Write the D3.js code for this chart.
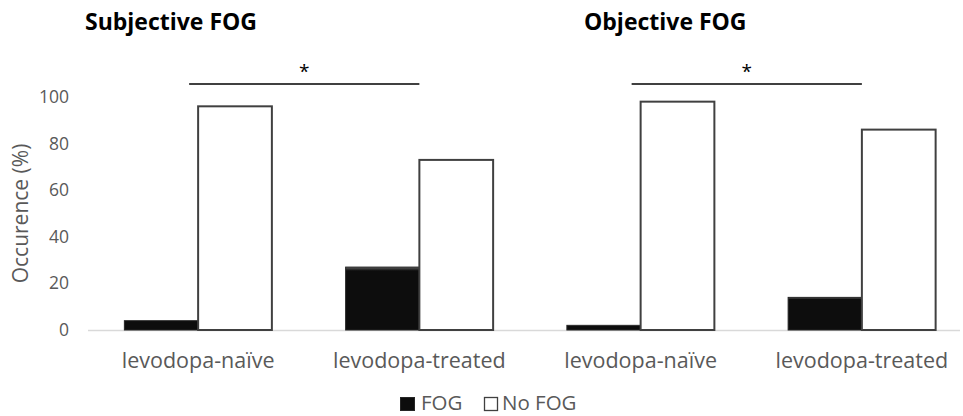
<!DOCTYPE html>
<html><head><meta charset="utf-8">
<script src="https://cdn.jsdelivr.net/npm/d3@7"></script>
<style>body{margin:0;background:#fff}svg text{font-family:"Open Sans","Noto Sans",sans-serif}</style>
</head><body><svg id="c" width="963" height="416"></svg>
<script>
const categories = ["Subjective|levodopa-naïve","Subjective|levodopa-treated","Objective|levodopa-naïve","Objective|levodopa-treated"];
const categoryLabels = ["levodopa-naïve","levodopa-treated","levodopa-naïve","levodopa-treated"];
const seriesNames = ["FOG","No FOG"];
const fogValues = [4, 27, 2, 14];
const noFogValues = [96, 73, 98, 86];
const yTicks = [0,20,40,60,80,100];
const panelTitles = ["Subjective FOG","Objective FOG"];
const sigPairs = [[0,1],[2,3]];
const sigLabel = "*";
const yLabel = "Occurence (%)";

const svg = d3.select("#c");
const defs = svg.append("defs");
const g1 = defs.append("linearGradient").attr("id","bev").attr("x1",0).attr("y1",0).attr("x2",0).attr("y2",1);
g1.append("stop").attr("offset","0").attr("stop-color","#5a5a5a");
g1.append("stop").attr("offset","0.06").attr("stop-color","#0d0d0d");
g1.append("stop").attr("offset","1").attr("stop-color","#0d0d0d");

const x = d3.scaleBand().domain(categories).range([87.5, 972.5]);
const xs = d3.scaleBand().domain(seriesNames).range([0, x.bandwidth()]).paddingOuter(0.5).paddingInner(0);
const y = d3.scaleLinear().domain([0,100]).range([330, 97]);

// y axis tick labels
svg.append("g").selectAll("text").data(yTicks).join("text")
  .attr("x", 69).attr("y", d => y(d) + 6).attr("text-anchor","end")
  .attr("font-size", 17.5).attr("fill","#595959").text(d => d);

svg.append("text").attr("transform","translate(28,"+((y(0)+y(100))/2+0)+") rotate(-90)")
  .attr("text-anchor","middle").attr("font-size",21).attr("fill","#595959").text(yLabel);

// baseline
svg.append("line").attr("x1",88).attr("x2",960).attr("y1",y(0)+0.5).attr("y2",y(0)+0.5)
  .attr("stroke","#d9d9d9").attr("stroke-width",1.5);

const groups = svg.append("g").selectAll("g").data(categories).join("g")
  .attr("transform", d => `translate(${x(d)},0)`);

groups.append("rect")
  .attr("x", xs("FOG")).attr("width", xs.bandwidth())
  .attr("y", (d,i) => y(fogValues[i])).attr("height", (d,i) => y(0) - y(fogValues[i]))
  .attr("fill","url(#bev)").attr("stroke","#262626").attr("stroke-width",1);

groups.append("rect")
  .attr("x", xs("No FOG")).attr("width", xs.bandwidth())
  .attr("y", (d,i) => y(noFogValues[i])).attr("height", (d,i) => y(0) - y(noFogValues[i]))
  .attr("fill","#fff").attr("stroke","#404040").attr("stroke-width",2);

// x labels
svg.append("g").selectAll("text").data(categories).join("text")
  .attr("x", d => x(d) + x.bandwidth()/2).attr("y", 368).attr("text-anchor","middle")
  .attr("font-size", 21.5).attr("fill","#595959").text((d,i) => categoryLabels[i]);

// significance
sigPairs.forEach(([a,b]) => {
  const x1 = x(categories[a]) + x.bandwidth()/2 - 9;
  const x2 = x(categories[b]) + x.bandwidth()/2;
  svg.append("line").attr("x1",x1).attr("x2",x2).attr("y1",84).attr("y2",84)
    .attr("stroke","#000").attr("stroke-width",1.3);
  svg.append("text").attr("x",(x1+x2)/2).attr("y",78).attr("text-anchor","middle")
    .attr("font-size",19).attr("fill","#000").text(sigLabel);
});

// panel titles
[[85,0],[584,1]].forEach(([px,i]) => {
  svg.append("text").attr("x",px).attr("y",30).attr("font-size",23).attr("font-weight","bold")
    .attr("fill","#000").text(panelTitles[i]);
});

// legend
const lg = svg.append("g");
lg.append("rect").attr("x",400.5).attr("y",397.5).attr("width",14).attr("height",13)
  .attr("fill","url(#bev)").attr("stroke","#262626");
lg.append("text").attr("x",421).attr("y",410).attr("font-size",20.5).attr("fill","#595959").text(seriesNames[0]);
lg.append("rect").attr("x",484.5).attr("y",397.5).attr("width",13).attr("height",13)
  .attr("fill","#fff").attr("stroke","#404040").attr("stroke-width",1.3);
lg.append("text").attr("x",502).attr("y",410).attr("font-size",20.5).attr("fill","#595959").text(seriesNames[1]);
</script></body></html>
